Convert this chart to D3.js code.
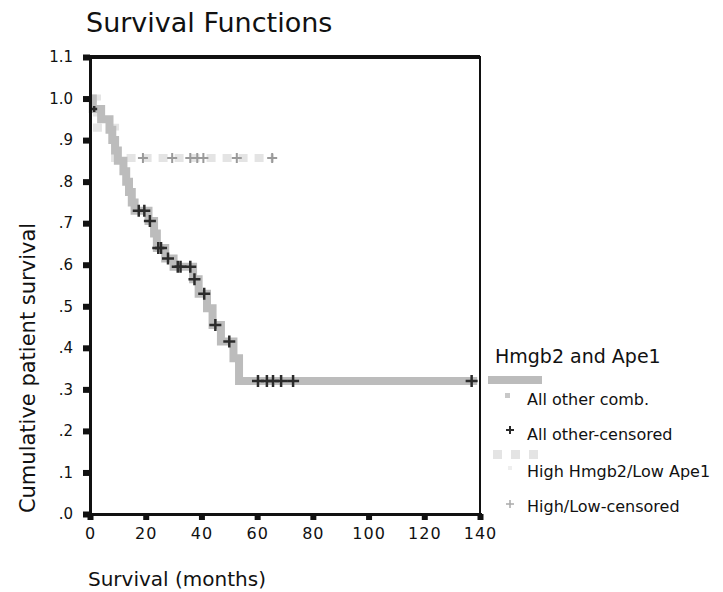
<!DOCTYPE html>
<html>
<head>
<meta charset="utf-8">
<script src="https://cdn.jsdelivr.net/npm/d3@7"></script>
<style>
  body { margin: 0; background: #fff; }
  text { font-family: "DejaVu Sans", sans-serif; fill: #111; }
</style>
</head>
<body>
<svg id="chart" width="723" height="592"></svg>
<script>
// Kaplan-Meier steps
var mainTimes = [0, 1, 4, 7, 8, 9, 10, 12, 13, 14, 15, 16, 21, 23, 24, 27, 30, 37, 39, 42, 44, 47, 51.5, 53.5, 139]
var mainSurv  = [1.0, .975, .95, .925, .90, .875, .85, .825, .80, .775, .75, .73, .705, .675, .64, .615, .595, .565, .53, .495, .455, .415, .375, .32, .32]

var mainCensTimes = [1.5, 17.5, 19.5, 21.5, 24.5, 25.5, 28, 31.5, 32.5, 36, 37.5, 41, 45, 50, 60.3, 63.5, 65.7, 68.6, 72.9, 137]
var mainCensSurv  = [.975, .73, .73, .705, .64, .64, .615, .595, .595, .595, .565, .53, .455, .415, .32, .32, .32, .32, .32, .32]

var highTimes = [0, 2.5, 9, 66]
var highSurv  = [1.0, .93, .857, .857]

var highCensTimes = [19, 29.5, 36, 38.5, 40.7, 52.7, 65.4]
var highCensSurv  = [.857, .857, .857, .857, .857, .857, .857]

var xTicks = [0, 20, 40, 60, 80, 100, 120, 140]
var yTicks = [0, .1, .2, .3, .4, .5, .6, .7, .8, .9, 1.0, 1.1]
var yTickLabels = [".0", ".1", ".2", ".3", ".4", ".5", ".6", ".7", ".8", ".9", "1.0", "1.1"]

var legendTitle = "Hmgb2 and Ape1"
var legendLabels = ["All other comb.", "All other-censored", "High Hmgb2/Low Ape1", "High/Low-censored"]

var svg = d3.select("#chart")

var plotLeft = 90, plotRight = 480, plotTop = 57, plotBottom = 514

var x = d3.scaleLinear().domain([0, 140]).range([plotLeft, plotRight])
var y = d3.scaleLinear().domain([0, 1.1]).range([plotBottom, plotTop])

// title
svg.append("text")
    .attr("x", 86).attr("y", 32)
    .style("font-size", "27px")
    .text("Survival Functions")

// plot frame
svg.append("rect")
    .attr("x", plotLeft).attr("y", plotTop)
    .attr("width", plotRight - plotLeft).attr("height", plotBottom - plotTop)
    .attr("fill", "none").attr("stroke", "#111").attr("stroke-width", 2)
svg.append("line")
    .attr("x1", plotLeft).attr("x2", plotRight).attr("y1", plotTop).attr("y2", plotTop)
    .attr("stroke", "#111").attr("stroke-width", 4)

// step lines
var line = d3.line()
    .x(function(d){ return x(d[0]) })
    .y(function(d){ return y(d[1]) })
    .curve(d3.curveStepAfter)

var highPts = d3.zip(highTimes, highSurv)
var mainPts = d3.zip(mainTimes, mainSurv)

svg.append("path")
    .datum(highPts)
    .attr("d", line)
    .attr("fill", "none")
    .attr("stroke", "#e4e4e4")
    .attr("stroke-width", 8)
    .attr("stroke-dasharray", "9,7")

svg.append("path")
    .datum(mainPts)
    .attr("d", line)
    .attr("fill", "none")
    .attr("stroke", "#bcbcbc")
    .attr("stroke-width", 8)

function plus(s) {
    return "M" + (-s) + ",0H" + s + "M0," + (-s) + "V" + s
}

svg.selectAll(".hcens")
    .data(d3.zip(highCensTimes, highCensSurv)).enter()
    .append("path")
        .attr("class", "hcens")
        .attr("d", plus(5))
        .attr("transform", function(d){ return "translate(" + x(d[0]) + "," + y(d[1]) + ")" })
        .attr("stroke", "#9a9a9a")
        .attr("stroke-width", 2)

svg.selectAll(".mcens")
    .data(d3.zip(mainCensTimes, mainCensSurv)).enter()
    .append("path")
        .attr("class", "mcens")
        .attr("d", function(d, i){ return plus(i === 0 ? 3 : 6) })
        .attr("transform", function(d){ return "translate(" + x(d[0]) + "," + y(d[1]) + ")" })
        .attr("stroke", "#2b2b2b")
        .attr("stroke-width", 2.5)

// axes
var yAxis = d3.axisLeft(y)
    .tickValues(yTicks)
    .tickFormat(function(d, i){ return yTickLabels[i] })
    .tickSize(7).tickPadding(10)

var xAxis = d3.axisBottom(x)
    .tickValues(xTicks)
    .tickSize(6).tickPadding(8)

var gy = svg.append("g").attr("transform", "translate(" + plotLeft + ",0)").call(yAxis)
var gx = svg.append("g").attr("transform", "translate(0," + plotBottom + ")").call(xAxis)

gy.select(".domain").attr("stroke", "#111").attr("stroke-width", 3)
gx.select(".domain").attr("stroke", "#111").attr("stroke-width", 3)
gy.selectAll(".tick line").attr("stroke", "#111").attr("stroke-width", 6)
gx.selectAll(".tick line").attr("stroke", "#111").attr("stroke-width", 6)
gy.selectAll(".tick text").style("font-size", "15px").style("font-family", "DejaVu Sans").attr("fill", "#111")
gx.selectAll(".tick text").style("font-size", "16px").style("font-family", "DejaVu Sans").attr("fill", "#111")
    .attr("letter-spacing", "1px")

// axis titles
svg.append("text")
    .attr("transform", "translate(35,368) rotate(-90)")
    .attr("text-anchor", "middle")
    .style("font-size", "21px")
    .text("Cumulative patient survival")

svg.append("text")
    .attr("x", 88).attr("y", 586)
    .style("font-size", "20px")
    .text("Survival (months)")

// legend
svg.append("text")
    .attr("x", 495).attr("y", 363)
    .style("font-size", "19px")
    .text(legendTitle)

svg.append("rect")
    .attr("x", 488).attr("y", 376).attr("width", 54).attr("height", 8)
    .attr("fill", "#bcbcbc")

svg.append("rect")
    .attr("x", 505).attr("y", 393).attr("width", 5).attr("height", 5)
    .attr("fill", "#c8c8c8")

svg.append("path")
    .attr("d", plus(4))
    .attr("transform", "translate(510,430)")
    .attr("stroke", "#2b2b2b").attr("stroke-width", 2)

svg.selectAll(".hdash")
    .data([0, 1, 2]).enter()
    .append("rect")
        .attr("x", function(d){ return 493 + d * 18 })
        .attr("y", 450).attr("width", 9).attr("height", 9)
        .attr("fill", "#e4e4e4")

svg.append("rect")
    .attr("x", 508).attr("y", 466).attr("width", 4).attr("height", 4)
    .attr("fill", "#eeeeee")

svg.append("path")
    .attr("d", plus(4))
    .attr("transform", "translate(510,504)")
    .attr("stroke", "#aaaaaa").attr("stroke-width", 1.5)

var legendY = [405, 440, 477, 512]
svg.selectAll(".leglab")
    .data(legendLabels).enter()
    .append("text")
        .attr("class", "leglab")
        .attr("x", 527)
        .attr("y", function(d, i){ return legendY[i] })
        .style("font-size", "16px")
        .text(function(d){ return d })
</script>
</body>
</html>
